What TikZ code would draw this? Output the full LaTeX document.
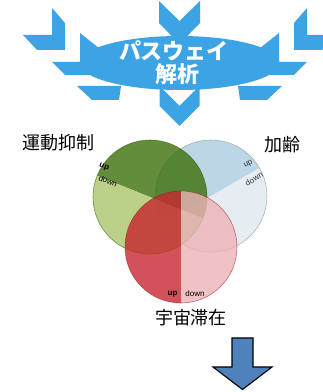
\documentclass[tikz,border=0pt]{standalone}
\usepackage{fontspec}
\setsansfont{Liberation Sans}
\newfontfamily\jp{Noto Sans CJK JP}
\definecolor{skyb}{RGB}{60,163,228}
\definecolor{gdark}{RGB}{60,112,10}
\definecolor{glight}{RGB}{170,198,105}
\definecolor{bdark}{RGB}{172,204,224}
\definecolor{blight}{RGB}{224,233,239}
\definecolor{rdark}{RGB}{200,38,46}
\definecolor{rlight}{RGB}{236,178,182}
\definecolor{arrowb}{RGB}{79,129,189}
\tikzset{
  sky/.style={fill=skyb, draw=none},
  pie/.style={fill opacity=0.8, draw=none},
  rim/.style={draw opacity=0.6, line width=0.6pt},
  lbl/.style={font=\jp\fontsize{18}{20}\selectfont, inner sep=0pt},
  ttl/.style={font=\jp\bfseries\fontsize{22}{24}\selectfont, text=white, inner sep=0pt},
  ud/.style={font=\sffamily\fontsize{8}{9}\selectfont, inner sep=0pt},
  udb/.style={font=\sffamily\bfseries\fontsize{8}{9}\selectfont, inner sep=0pt}
}
\begin{document}
\begin{tikzpicture}[x=1pt,y=1pt]
\useasboundingbox (0,0) rectangle (323,392);
% ---- top pathway graphic ----
\begin{scope}
\clip (0,0) rectangle (323,392);
\foreach \s in {1,-1}{
 \begin{scope}[xshift={(\s==1 ? 0 : 359)}, xscale=\s]
  \fill[sky] (52,384) -- (65,369) -- (65,342) -- (37,342) -- (23,357) -- (52,357) -- cycle;
  \fill[sky] (80,359) -- (104,340) -- (104,317) -- (65,317) -- (52,330) -- (80,330) -- cycle;
  \fill[sky] (77,306) -- (121,306) -- (119,292) -- (92,292) -- cycle;
 \end{scope}
}
\end{scope}
\fill[sky] (179.5,329) ellipse[x radius=100, y radius=27];
\fill[sky] (159,391) -- (179.5,371) -- (200,391) -- (200,369) -- (179.5,348) -- (159,369) -- cycle;
\fill[sky] (159.5,306) -- (179.5,286) -- (199.5,306) -- (199.5,286) -- (179.5,266) -- (159.5,286) -- cycle;
\node[ttl] (t1) at (174,341) {パスウェイ};
\node[ttl] (t2) at (177,318) {解析};
% ---- labels ----
\node[lbl] (l1) at (58.5,249.5) {運動抑制};
\node[lbl] (l2) at (283,247.5) {加齢};
\node[lbl] (l3) at (191,74) {宇宙滞在};
% ---- Venn pies ----
% blue
\fill[pie, bdark] (211,196) -- ++(30:56) arc[start angle=30, end angle=210, radius=56] -- cycle;
\fill[pie, blight] (211,196) -- ++(210:56) arc[start angle=210, end angle=390, radius=56] -- cycle;
\draw[rim, draw=bdark!70!black] (211,196) circle[radius=56];
% green
\fill[pie, gdark] (150,195) -- ++(-22:57) arc[start angle=-22, end angle=158, radius=57] -- cycle;
\fill[pie, glight] (150,195) -- ++(158:57) arc[start angle=158, end angle=338, radius=57] -- cycle;
\draw[rim, draw=gdark!80!black] (150,195) circle[radius=57];
% red
\fill[pie, rdark] (181,145) -- ++(90:56) arc[start angle=90, end angle=270, radius=56] -- cycle;
\fill[pie, rlight] (181,145) -- ++(270:56) arc[start angle=270, end angle=450, radius=56] -- cycle;
\draw[rim, draw=rdark!80!black] (181,145) circle[radius=56];
% up/down labels
\node[udb, rotate=-22] (gu) at (104,224.5) {up};
\node[ud, rotate=-22] (gd) at (108,211) {down};
\node[ud, rotate=30, text=black!80] (bu) at (248.5,228) {up};
\node[ud, rotate=30, text=black!80] (bd) at (254,213) {down};
\node[udb] (ru) at (172.5,98) {up};
\node[ud] (rd) at (195,98) {down};
% ---- bottom arrow ----
\filldraw[fill=arrowb, draw=black, line width=1.1pt, line join=miter]
  (232,54) -- (253,54) -- (253,25) -- (272,25) -- (242.5,2.5) -- (213,25) -- (232,25) -- cycle;
\end{tikzpicture}
\end{document}
